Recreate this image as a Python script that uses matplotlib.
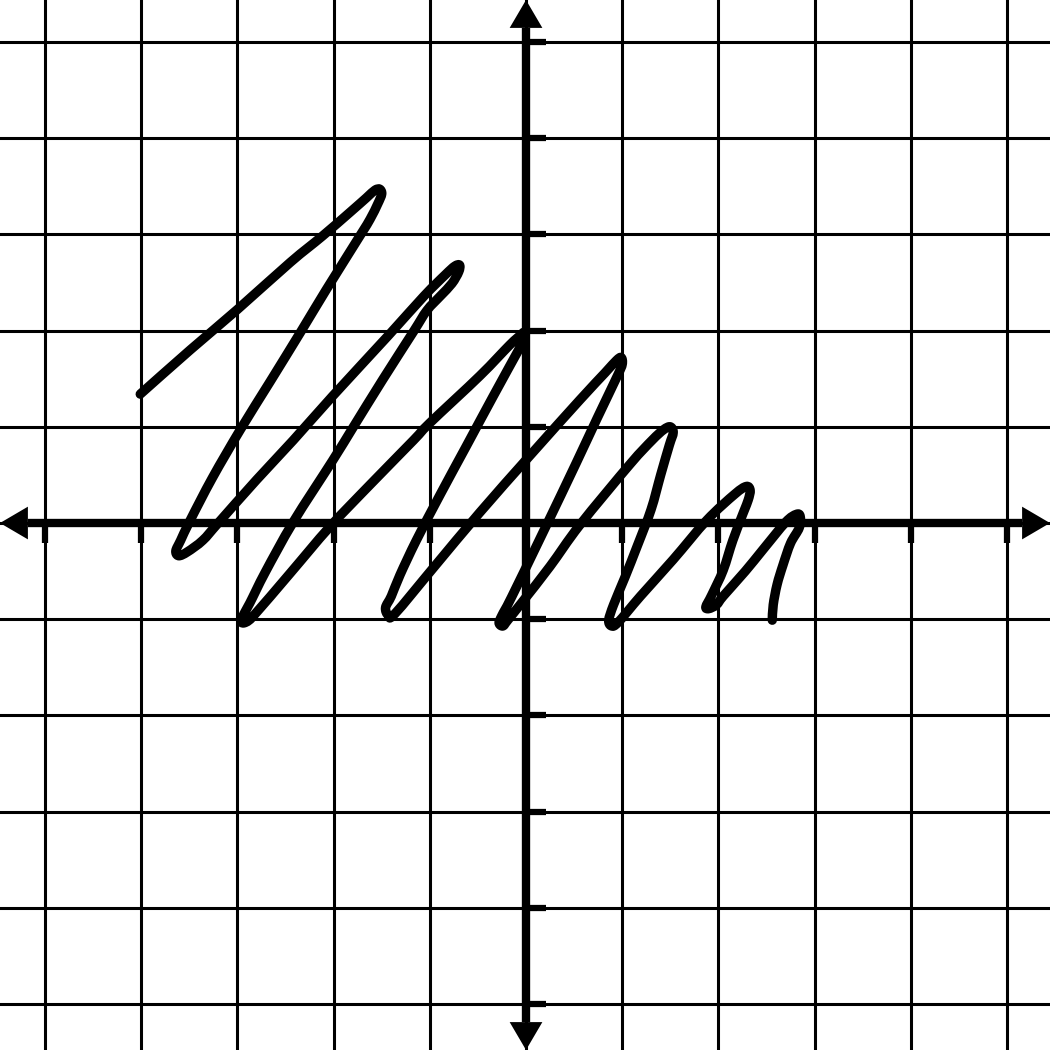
import matplotlib

matplotlib.use("Agg")
import matplotlib.pyplot as plt
from matplotlib.patches import Polygon, PathPatch
from matplotlib.path import Path

# ── data (graph units) ────────────────────────────────────────────────────
grid_ticks = [-5, -4, -3, -2, -1, 0, 1, 2, 3, 4, 5]

# traced pen stroke, one row per up/down stroke
curve_x = [
    -4.01, -3.49, -3.00, -2.45, -2.12, -1.83, -1.66, -1.57, -1.52, -1.50, -1.54, -1.62,
    -1.73, -2.08, -2.34, -2.66, -2.97, -3.26, -3.49, -3.59, -3.64, -3.61, -3.52,
    -3.36, -3.20, -2.80, -2.42, -2.01, -1.43, -1.06, -0.84, -0.74, -0.69, -0.70, -0.77,
    -0.89, -1.03, -1.17, -1.49, -1.80, -2.01, -2.42, -2.71, -2.87, -2.94, -2.96, -2.91,
    -2.82, -2.45, -2.04, -1.60, -1.17, -1.00, -0.48, -0.17, -0.06, -0.02, -0.02,
    -0.06, -0.34, -0.62, -0.89, -1.14, -1.31, -1.40, -1.46, -1.43,
    -1.36, -0.95, -0.48, 0.04, 0.56, 0.82, 0.94, 0.99, 1.00,
    0.95, 0.74, 0.52, 0.19, -0.15, -0.25, -0.28, -0.24,
    -0.19, -0.03, 0.25, 0.56, 1.08, 1.31, 1.43, 1.50, 1.53,
    1.49, 1.40, 1.30, 1.16, 1.03, 0.91, 0.86, 0.89,
    0.96, 1.19, 1.53, 1.88, 2.17, 2.29, 2.33,
    2.31, 2.26, 2.15, 2.05, 1.93, 1.87, 1.90,
    1.98, 2.05, 2.28, 2.46, 2.70, 2.81, 2.85,
    2.84, 2.75, 2.67, 2.61, 2.57, 2.56,
]
curve_y = [
    1.34, 1.80, 2.22, 2.71, 2.98, 3.23, 3.38, 3.46, 3.47, 3.42, 3.32, 3.16,
    2.98, 2.42, 1.99, 1.47, 0.97, 0.47, 0.03, -0.18, -0.29, -0.34, -0.30,
    -0.18, 0.00, 0.45, 0.86, 1.32, 1.95, 2.36, 2.58, 2.67, 2.68, 2.61, 2.49,
    2.36, 2.21, 1.99, 1.49, 0.99, 0.65, 0.01, -0.51, -0.83, -0.96, -1.03, -1.03,
    -0.95, -0.52, -0.04, 0.42, 0.86, 1.04, 1.53, 1.85, 1.95, 1.98, 1.90,
    1.83, 1.32, 0.80, 0.30, -0.18, -0.54, -0.76, -0.88, -0.96,
    -0.94, -0.45, 0.11, 0.70, 1.28, 1.56, 1.69, 1.72, 1.65,
    1.53, 1.09, 0.62, -0.07, -0.77, -0.96, -1.04, -1.07,
    -1.01, -0.81, -0.45, -0.02, 0.61, 0.86, 0.97, 1.00, 0.94,
    0.81, 0.50, 0.14, -0.23, -0.56, -0.85, -1.01, -1.07,
    -1.03, -0.76, -0.38, 0.03, 0.30, 0.38, 0.34,
    0.24, 0.11, -0.18, -0.49, -0.75, -0.87, -0.89,
    -0.85, -0.76, -0.50, -0.28, 0.01, 0.09, 0.07,
    -0.05, -0.21, -0.44, -0.64, -0.85, -1.01,
]

# ── layout ─────────────────────────────────────────────────────────────────
X_LIM = (-5.468, 5.447)
Y_LIM = (-5.478, 5.437)
HEAD_LEN = 0.29
HEAD_HALF = 0.17
TICK_LEN = 0.21
INK = "black"


def smooth_path(xs, ys):
    """Catmull-Rom style Bezier path through the traced points."""
    pts = list(zip(xs, ys))
    verts = [pts[0]]
    codes = [Path.MOVETO]
    n = len(pts)
    for i in range(n - 1):
        p0 = pts[max(i - 1, 0)]
        p1 = pts[i]
        p2 = pts[i + 1]
        p3 = pts[min(i + 2, n - 1)]
        c1 = (p1[0] + (p2[0] - p0[0]) / 6, p1[1] + (p2[1] - p0[1]) / 6)
        c2 = (p2[0] - (p3[0] - p1[0]) / 6, p2[1] - (p3[1] - p1[1]) / 6)
        verts += [c1, c2, p2]
        codes += [Path.CURVE4] * 3
    return Path(verts, codes)


fig = plt.figure(figsize=(10.5, 10.5), dpi=100)
ax = fig.add_axes([0, 0, 1, 1])
ax.set_xlim(*X_LIM)
ax.set_ylim(*Y_LIM)
for s in ax.spines.values():
    s.set_visible(False)
ax.set_xticks([])
ax.set_yticks([])

# grid
for t in grid_ticks:
    ax.axvline(t, color=INK, lw=2.2, zorder=1)
    ax.axhline(t, color=INK, lw=2.2, zorder=1)

# axes with arrow heads
ax.plot([X_LIM[0] + HEAD_LEN, X_LIM[1] - HEAD_LEN], [0, 0], color=INK,
        lw=6, solid_capstyle="butt", zorder=3)
ax.plot([0, 0], [Y_LIM[0] + HEAD_LEN, Y_LIM[1] - HEAD_LEN], color=INK,
        lw=6, solid_capstyle="butt", zorder=3)
heads = [
    [(X_LIM[1], 0), (X_LIM[1] - HEAD_LEN, HEAD_HALF), (X_LIM[1] - HEAD_LEN, -HEAD_HALF)],
    [(X_LIM[0], 0), (X_LIM[0] + HEAD_LEN, HEAD_HALF), (X_LIM[0] + HEAD_LEN, -HEAD_HALF)],
    [(0, Y_LIM[1]), (HEAD_HALF, Y_LIM[1] - HEAD_LEN), (-HEAD_HALF, Y_LIM[1] - HEAD_LEN)],
    [(0, Y_LIM[0]), (HEAD_HALF, Y_LIM[0] + HEAD_LEN), (-HEAD_HALF, Y_LIM[0] + HEAD_LEN)],
]
for h in heads:
    ax.add_patch(Polygon(h, closed=True, color=INK, lw=0, zorder=4))

# tick marks
ticks = [t for t in grid_ticks if t != 0]
ax.vlines(ticks, -TICK_LEN, 0, color=INK, lw=4.5, zorder=3)
ax.hlines(ticks, 0, TICK_LEN, color=INK, lw=4.5, zorder=3)

# the curve
ax.add_patch(PathPatch(smooth_path(curve_x, curve_y), fill=False,
                       edgecolor=INK, lw=6.8, capstyle="round",
                       joinstyle="round", zorder=5))

fig.savefig("out.png", dpi=100, facecolor="white")
